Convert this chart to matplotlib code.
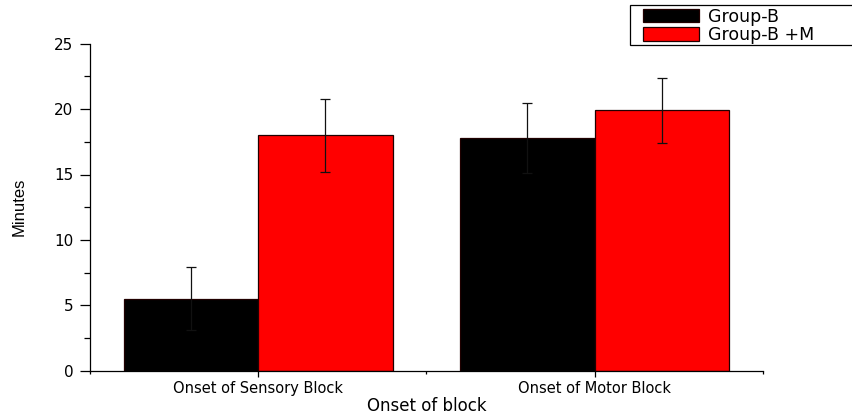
import matplotlib
matplotlib.use("Agg")
import matplotlib.pyplot as plt
from matplotlib.patches import Rectangle
from matplotlib.ticker import MultipleLocator, FixedLocator
import numpy as np

categories = ["Onset of Sensory Block", "Onset of Motor Block"]
series_names = ["Group-B", "Group-B +M"]
group_b = [5.5, 17.8]
group_b_err = [2.4, 2.7]
group_bm = [18.0, 19.9]
group_bm_err = [2.8, 2.5]
colors = ["#000000", "#ff0000"]

plt.rcParams['font.family'] = ['DejaVu Sans']

fig = plt.figure(figsize=(8.53, 4.17), dpi=100)
W, H = 853, 417
ax = fig.add_axes([90 / W, 1 - 370.7 / H, 672.7 / W, 327 / H])

x = np.arange(1, len(categories) + 1)
bw = 0.4
vals = [group_b, group_bm]
errs = [group_b_err, group_bm_err]
offs = [-bw / 2, bw / 2]
handles = []
for v, e, o, c, name in zip(vals, errs, offs, colors, series_names):
    b = ax.bar(x + o, v, width=bw, color=c, edgecolor="#200000", linewidth=0.9,
               label=name, zorder=2)
    handles.append(b)
    ax.errorbar(x + o, v, yerr=e, fmt="none", ecolor="#111111", elinewidth=0.9,
                capsize=3.6, capthick=0.9, zorder=3)

ax.set_xlim(0.5, 2.5)
ax.set_ylim(0, 25)
ax.xaxis.set_major_locator(FixedLocator(x))
ax.set_xticklabels(categories, fontsize=10.5)
ax.xaxis.set_minor_locator(FixedLocator([0.5, 1.5, 2.5]))
ax.yaxis.set_major_locator(MultipleLocator(5))
ax.yaxis.set_minor_locator(MultipleLocator(2.5))
for lab in ax.get_yticklabels():
    lab.set_fontsize(11)

ax.spines['top'].set_visible(False)
ax.spines['right'].set_visible(False)
for s in ['left', 'bottom']:
    ax.spines[s].set_linewidth(0.9)
ax.tick_params(axis='y', which='major', direction='out', length=7, width=0.9, pad=5)
ax.tick_params(axis='y', which='minor', direction='out', length=4.3, width=0.9)
ax.tick_params(axis='x', which='major', direction='out', length=4.3, width=0.9, pad=3)
ax.tick_params(axis='x', which='minor', direction='out', length=2.2, width=0.9)

ax.set_xlabel("Onset of block", fontsize=12, labelpad=1)
ax.set_ylabel("Minutes", fontsize=12, family=['Liberation Sans Narrow', 'Liberation Sans', 'DejaVu Sans'],
              labelpad=20)

# legend frame (extends past right edge like the reference)
fig.patches.append(Rectangle((630 / W, 1 - 45 / H), 240 / W, 40 / H,
                             transform=fig.transFigure, facecolor='white',
                             edgecolor='black', linewidth=0.9, clip_on=False, zorder=5))
leg = fig.legend(handles=handles, labels=series_names, loc='upper left',
                 bbox_to_anchor=(643 / W, 1 - 7.5 / H), frameon=False,
                 fontsize=12.5, borderpad=0, borderaxespad=0, handlelength=3.2,
                 handleheight=0.85, handletextpad=0.55, labelspacing=0.02)
leg.set_zorder(6)

fig.savefig("out.png", dpi=100)
